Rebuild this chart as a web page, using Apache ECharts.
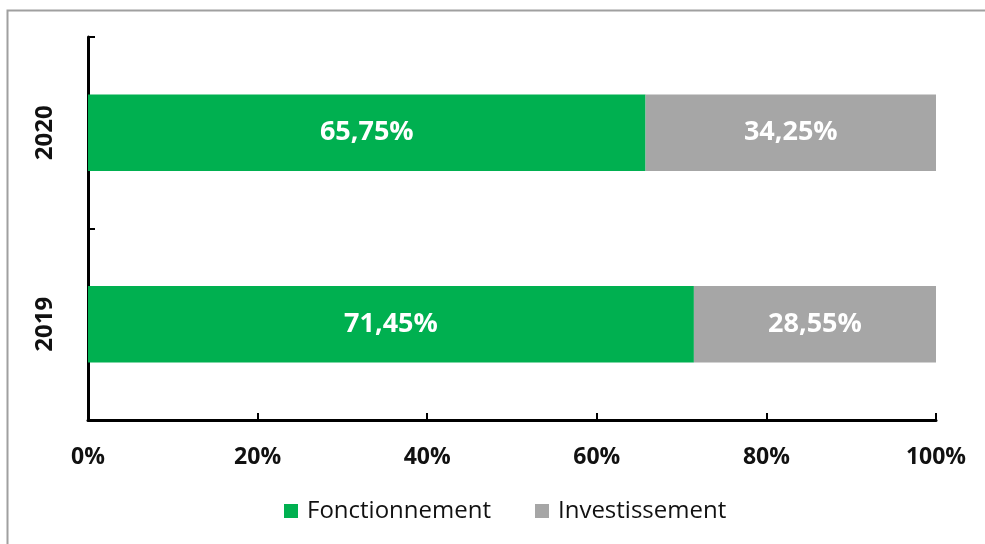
<!DOCTYPE html>
<html>
<head>
<meta charset="utf-8">
<script src="https://cdn.jsdelivr.net/npm/echarts@6/dist/echarts.min.js"></script>
<style>
  html, body { margin: 0; padding: 0; background: #fff; }
  #chart { width: 985px; height: 544px; }
</style>
</head>
<body>
<div id="chart"></div>
<script>
// données
const years = ['2019', '2020']
const fonctionnement = [71.45, 65.75]
const investissement = [28.55, 34.25]
const xTicks = [0, 20, 40, 60, 80, 100]

const fmt = v => v.toFixed(2).replace('.', ',') + '%'
const font = '"Open Sans", "Noto Sans", sans-serif'

const chart = echarts.init(document.getElementById('chart'))

const option = {
  animation: false,
  textStyle: { fontFamily: font },
  graphic: [{
    type: 'rect',
    shape: { x: 7.5, y: 10.5, width: 1000, height: 600 },
    style: { fill: 'none', stroke: '#a0a0a0', lineWidth: 2 },
    silent: true
  }],
  grid: { left: 88, right: 49, top: 37, bottom: 124 },
  legend: {
    bottom: 16,
    left: 279,
    itemWidth: 14,
    itemHeight: 14,
    itemGap: 44,
    icon: 'rect',
    textStyle: { fontSize: 24, color: '#111', fontFamily: font, padding: [0, 0, 0, 4] },
    data: ['Fonctionnement', 'Investissement']
  },
  xAxis: {
    type: 'value',
    min: xTicks[0],
    max: xTicks[xTicks.length - 1],
    interval: 20,
    axisLine: { show: true, lineStyle: { color: '#000', width: 3 } },
    axisTick: { show: true, inside: true, length: 7, lineStyle: { color: '#000', width: 2 } },
    splitLine: { show: false },
    axisLabel: {
      formatter: v => v + '%',
      fontSize: 23, fontWeight: 'bold', color: '#111', margin: 26
    }
  },
  yAxis: {
    type: 'category',
    data: years,
    axisLine: { show: true, lineStyle: { color: '#000', width: 3 } },
    axisTick: { show: true, inside: true, length: 7, lineStyle: { color: '#000', width: 2 } },
    axisLabel: {
      rotate: 90, fontSize: 24, fontWeight: 'bold', color: '#111', margin: 31
    }
  },
  series: [
    {
      name: 'Fonctionnement',
      type: 'bar',
      stack: 'total',
      barCategoryGap: '60%',
      data: fonctionnement,
      itemStyle: { color: '#00b050' },
      label: {
        show: true, position: 'inside', formatter: p => fmt(p.value),
        color: '#fff', fontSize: 27, fontWeight: 'bold'
      }
    },
    {
      name: 'Investissement',
      type: 'bar',
      stack: 'total',
      data: investissement,
      itemStyle: { color: '#a6a6a6' },
      label: {
        show: true, position: 'inside', formatter: p => fmt(p.value),
        color: '#fff', fontSize: 27, fontWeight: 'bold'
      }
    }
  ]
}

chart.setOption(option)
</script>
</body>
</html>
